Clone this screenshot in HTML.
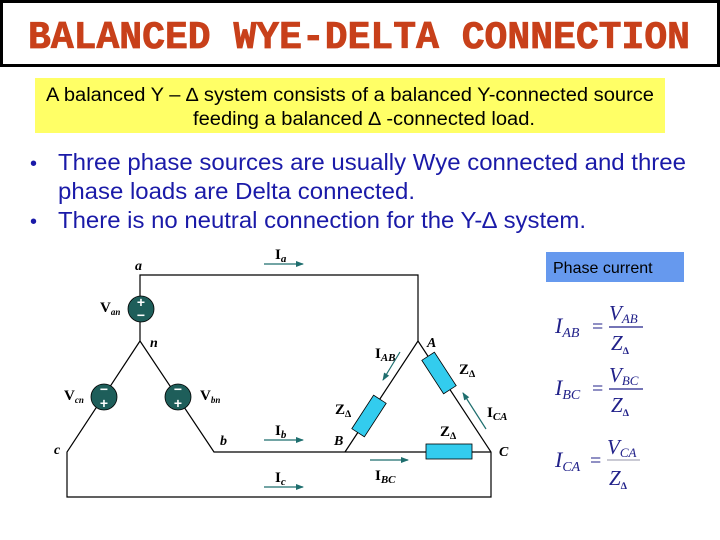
<!DOCTYPE html>
<html><head><meta charset="utf-8"><style>
html,body{margin:0;padding:0;background:#fff;width:720px;height:540px;overflow:hidden}
</style></head><body>
<svg width="720" height="540" viewBox="0 0 720 540" xmlns="http://www.w3.org/2000/svg" font-family="Liberation Sans, sans-serif">
<defs>
<marker id="ar" markerWidth="8" markerHeight="8" refX="7" refY="4" orient="auto" markerUnits="userSpaceOnUse">
<path d="M0,1 L8,4 L0,7 Z" fill="#1e6e6e"/></marker>
</defs>
<rect x="1.5" y="1.5" width="717" height="64" fill="#fff" stroke="#000" stroke-width="3"/>
<text x="28" y="48" font-family="Liberation Mono, monospace" font-weight="bold" font-size="39" fill="#c8401a" textLength="662" lengthAdjust="spacingAndGlyphs" stroke="#c8401a" stroke-width="0.8">BALANCED WYE-DELTA CONNECTION</text>
<rect x="35" y="78" width="630" height="55" fill="#ffff66"/>
<text x="46" y="101" font-size="19" fill="#000" textLength="608" lengthAdjust="spacingAndGlyphs">A balanced Y – ∆ system consists of a balanced Y-connected source</text>
<text x="193" y="125" font-size="19" fill="#000" textLength="342" lengthAdjust="spacingAndGlyphs">feeding a balanced ∆ -connected load.</text>
<g fill="#1a1aa8" font-size="23">
<text x="30" y="170" font-size="20">•</text>
<text x="58" y="170" textLength="628" lengthAdjust="spacingAndGlyphs">Three phase sources are usually Wye connected and three</text>
<text x="58" y="199" textLength="357" lengthAdjust="spacingAndGlyphs">phase loads are Delta connected.</text>
<text x="30" y="228" font-size="20">•</text>
<text x="58" y="228" textLength="528" lengthAdjust="spacingAndGlyphs">There is no neutral connection for the Y-∆ system.</text>
</g>
<g stroke="#000" stroke-width="1.2" fill="none">
<polyline points="140,296 140,275 418,275 418,341"/>
<line x1="140" y1="322" x2="140" y2="341"/>
<polyline points="140,341 67,452 67,497 491,497 491,452 418,341 345,452"/>
<polyline points="140,341 214,452 491,452"/>
</g>
<g fill="#1e5e5a" stroke="#000" stroke-width="0.8">
<circle cx="141" cy="309" r="13"/>
<circle cx="104" cy="397" r="13"/>
<circle cx="178" cy="397" r="13"/>
</g>
<g fill="#fff" font-size="14" font-weight="bold" text-anchor="middle">
<text x="141" y="307">+</text><text x="141" y="320">−</text>
<text x="104" y="394">−</text><text x="104" y="408">+</text>
<text x="178" y="394">−</text><text x="178" y="408">+</text>
</g>
<g fill="#33ccee" stroke="#000" stroke-width="0.8">
<rect x="426" y="444" width="46" height="15"/>
<rect x="-20" y="-7.5" width="40" height="15" transform="translate(369,416) rotate(-57)"/>
<rect x="-20" y="-7.5" width="40" height="15" transform="translate(439,373) rotate(57)"/>
</g>
<g stroke="#1e6e6e" stroke-width="1.2" marker-end="url(#ar)">
<line x1="264" y1="264" x2="303" y2="264"/>
<line x1="264" y1="440" x2="303" y2="440"/>
<line x1="264" y1="487" x2="303" y2="487"/>
<line x1="370" y1="460" x2="408" y2="460"/>
<line x1="400" y1="352" x2="383" y2="380"/>
<line x1="486" y1="429" x2="463" y2="393"/>
</g>
<g font-family="Liberation Serif, serif" font-weight="bold" font-style="italic" font-size="14" fill="#000">
<text x="135" y="270">a</text>
<text x="150" y="347">n</text>
<text x="54" y="454">c</text>
<text x="220" y="445">b</text>
<text x="427" y="347">A</text>
<text x="334" y="445">B</text>
<text x="499" y="456">C</text>
</g>
<g font-family="Liberation Serif, serif" font-weight="bold" font-size="15" fill="#000">
<text x="275" y="259">I<tspan font-size="11" font-style="italic" dy="3">a</tspan></text>
<text x="275" y="435">I<tspan font-size="11" font-style="italic" dy="3">b</tspan></text>
<text x="275" y="482">I<tspan font-size="11" font-style="italic" dy="3">c</tspan></text>
<text x="375" y="358">I<tspan font-size="11" font-style="italic" dy="3">AB</tspan></text>
<text x="375" y="480">I<tspan font-size="11" font-style="italic" dy="3">BC</tspan></text>
<text x="487" y="417">I<tspan font-size="11" font-style="italic" dy="3">CA</tspan></text>
<text x="100" y="312">V<tspan font-size="9" font-style="italic" dy="3">an</tspan></text>
<text x="64" y="400">V<tspan font-size="9" font-style="italic" dy="3">cn</tspan></text>
<text x="200" y="400">V<tspan font-size="9" font-style="italic" dy="3">bn</tspan></text>
<text x="459" y="374">Z<tspan font-size="10" dy="3">∆</tspan></text>
<text x="335" y="414">Z<tspan font-size="10" dy="3">∆</tspan></text>
<text x="440" y="436">Z<tspan font-size="10" dy="3">∆</tspan></text>
</g>
<rect x="546" y="252" width="138" height="30" fill="#6699ee"/>
<text x="553" y="273" font-size="16" fill="#000">Phase current</text>
<g font-family="Liberation Serif, serif" font-style="italic" fill="#22228a">
<text x="555" y="333" font-size="22">I<tspan font-size="14" dy="4">AB</tspan></text>
<text x="592" y="333" font-size="20" font-style="normal">=</text>
<text x="609" y="320" font-size="21">V<tspan font-size="13" dy="3">AB</tspan></text>
<line x1="609" y1="327" x2="643" y2="327" stroke="#22228a" stroke-width="1.2"/>
<text x="611" y="350" font-size="21">Z<tspan font-size="10" font-style="normal" font-weight="bold" dy="4">∆</tspan></text>
<text x="555" y="395" font-size="22">I<tspan font-size="14" dy="4">BC</tspan></text>
<text x="592" y="395" font-size="20" font-style="normal">=</text>
<text x="609" y="382" font-size="21">V<tspan font-size="13" dy="3">BC</tspan></text>
<line x1="609" y1="389" x2="643" y2="389" stroke="#22228a" stroke-width="1.2"/>
<text x="611" y="412" font-size="21">Z<tspan font-size="10" font-style="normal" font-weight="bold" dy="4">∆</tspan></text>
<text x="555" y="467" font-size="22">I<tspan font-size="14" dy="4">CA</tspan></text>
<text x="590" y="467" font-size="20" font-style="normal">=</text>
<text x="607" y="454" font-size="21">V<tspan font-size="13" dy="3">CA</tspan></text>
<line x1="607" y1="460" x2="640" y2="460" stroke="#aab" stroke-width="1.2"/>
<text x="609" y="485" font-size="21">Z<tspan font-size="10" font-style="normal" font-weight="bold" dy="4">∆</tspan></text>
</g>
</svg>
</body></html>
